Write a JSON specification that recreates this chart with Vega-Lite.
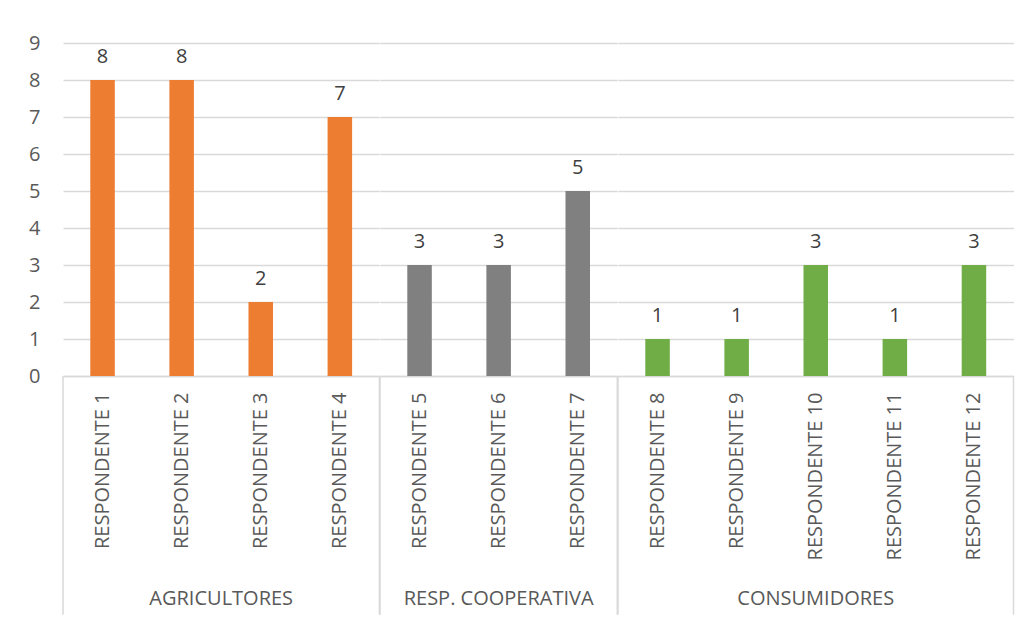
{
  "$schema": "https://vega.github.io/schema/vega-lite/v6.json",
  "padding": {"left": 28, "top": 33, "right": 0, "bottom": 0},
  "background": "white",
  "bounds": "flush",
  "data": {"values": [
    {"group": "AGRICULTORES", "respondent": "RESPONDENTE 1", "n": 1, "value": 8},
    {"group": "AGRICULTORES", "respondent": "RESPONDENTE 2", "n": 2, "value": 8},
    {"group": "AGRICULTORES", "respondent": "RESPONDENTE 3", "n": 3, "value": 2},
    {"group": "AGRICULTORES", "respondent": "RESPONDENTE 4", "n": 4, "value": 7},
    {"group": "RESP. COOPERATIVA", "respondent": "RESPONDENTE 5", "n": 5, "value": 3},
    {"group": "RESP. COOPERATIVA", "respondent": "RESPONDENTE 6", "n": 6, "value": 3},
    {"group": "RESP. COOPERATIVA", "respondent": "RESPONDENTE 7", "n": 7, "value": 5},
    {"group": "CONSUMIDORES", "respondent": "RESPONDENTE 8", "n": 8, "value": 1},
    {"group": "CONSUMIDORES", "respondent": "RESPONDENTE 9", "n": 9, "value": 1},
    {"group": "CONSUMIDORES", "respondent": "RESPONDENTE 10", "n": 10, "value": 3},
    {"group": "CONSUMIDORES", "respondent": "RESPONDENTE 11", "n": 11, "value": 1},
    {"group": "CONSUMIDORES", "respondent": "RESPONDENTE 12", "n": 12, "value": 3}
  ]},
  "facet": {
    "column": {
      "field": "group",
      "type": "nominal",
      "sort": ["AGRICULTORES", "RESP. COOPERATIVA", "CONSUMIDORES"],
      "header": {
        "title": null,
        "labelOrient": "bottom",
        "labelFont": "Open Sans",
        "labelFontSize": 20,
        "labelColor": "#595959",
        "labelBaseline": "middle",
        "labelPadding": 223
      }
    }
  },
  "spacing": 0,
  "resolve": {"scale": {"x": "independent"}},
  "spec": {
    "width": {"step": 79.1},
    "height": 333,
    "encoding": {
      "x": {
        "field": "respondent",
        "type": "nominal",
        "sort": {"field": "n", "op": "min"},
        "scale": {"paddingInner": 0, "paddingOuter": 0},
        "axis": {
          "title": null,
          "labelAngle": -90,
          "labelPadding": 16,
          "ticks": false,
          "domainColor": "#D9D9D9",
          "domainWidth": 1.5,
          "labelFont": "Open Sans",
          "labelFontSize": 20,
          "labelColor": "#595959"
        }
      },
      "y": {
        "field": "value",
        "type": "quantitative",
        "scale": {"domain": [0, 9], "nice": false},
        "axis": {
          "title": null,
          "values": [0, 1, 2, 3, 4, 5, 6, 7, 8, 9],
          "labelOverlap": false,
          "domain": false,
          "ticks": false,
          "labelPadding": 23,
          "grid": true,
          "gridColor": "#D9D9D9",
          "gridWidth": 1.5,
          "labelFont": "Open Sans",
          "labelFontSize": 20,
          "labelColor": "#595959"
        }
      }
    },
    "layer": [
      {
        "mark": {"type": "bar", "width": {"band": 0.31}},
        "encoding": {
          "color": {
            "field": "group",
            "type": "nominal",
            "scale": {
              "domain": ["AGRICULTORES", "RESP. COOPERATIVA", "CONSUMIDORES"],
              "range": ["#ED7D31", "#808080", "#70AD47"]
            },
            "legend": null
          }
        }
      },
      {
        "mark": {"type": "text", "baseline": "alphabetic", "dy": -17, "font": "Open Sans", "fontSize": 20, "color": "#404040"},
        "encoding": {
          "text": {"field": "value", "type": "quantitative"}
        }
      },
      {
        "transform": [
          {"joinaggregate": [{"op": "min", "field": "n", "as": "nmin"}], "groupby": ["group"]},
          {"filter": "datum.n == datum.nmin"}
        ],
        "mark": {"type": "rule", "color": "#D9D9D9", "strokeWidth": 1.5},
        "encoding": {
          "x": {"field": "respondent", "type": "nominal", "sort": {"field": "n", "op": "min"}, "bandPosition": 0},
          "y": {"datum": 0, "type": "quantitative"},
          "y2": {"datum": -6.45}
        }
      },
      {
        "transform": [
          {"joinaggregate": [{"op": "max", "field": "n", "as": "nmax"}], "groupby": ["group"]},
          {"filter": "datum.n == datum.nmax"}
        ],
        "mark": {"type": "rule", "color": "#D9D9D9", "strokeWidth": 1.5},
        "encoding": {
          "x": {"field": "respondent", "type": "nominal", "sort": {"field": "n", "op": "min"}, "bandPosition": 1},
          "y": {"datum": 0, "type": "quantitative"},
          "y2": {"datum": -6.45}
        }
      }
    ]
  },
  "config": {
    "view": {"stroke": null}
  }
}
